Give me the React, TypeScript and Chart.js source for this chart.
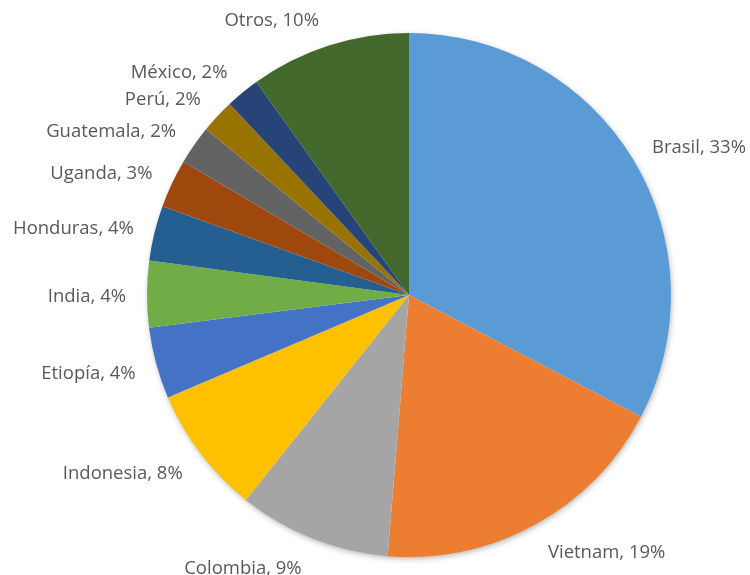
import React, { useEffect, useRef } from "react";
import { Chart, registerables } from "chart.js";

Chart.register(...registerables);

const categories = ["Brasil", "Vietnam", "Colombia", "Indonesia", "Etiopía", "India", "Honduras", "Uganda", "Guatemala", "Perú", "México", "Otros"];
const values = [32.7, 18.6, 9.4, 7.9, 4.4, 4.1, 3.4, 3.0, 2.4, 2.1, 2.1, 9.9];
const percentLabels = ["33%", "19%", "9%", "8%", "4%", "4%", "4%", "3%", "2%", "2%", "2%", "10%"];
const colors = ["#5B9BD5", "#ED7D31", "#A5A5A5", "#FFC000", "#4472C4", "#70AD47", "#255E91", "#9E480E", "#636363", "#997300", "#264478", "#43682B"];

function shade(hex: string, f: number): string {
  const n = parseInt(hex.slice(1), 16);
  let r = (n >> 16) & 255, g = (n >> 8) & 255, b = n & 255;
  if (f >= 0) {
    r = r + (255 - r) * f; g = g + (255 - g) * f; b = b + (255 - b) * f;
  } else {
    r = r * (1 + f); g = g * (1 + f); b = b * (1 + f);
  }
  return `rgb(${Math.round(r)},${Math.round(g)},${Math.round(b)})`;
}

const FONT = "18.5px 'Open Sans'";

const shadowPlugin = {
  id: "pieShadow",
  beforeDatasetsDraw(chart: any) {
    const meta = chart.getDatasetMeta(0);
    const arc = meta.data[0];
    if (!arc) return;
    const ctx = chart.ctx;
    ctx.save();
    ctx.shadowColor = "rgba(0,0,0,0.35)";
    ctx.shadowBlur = 6;
    ctx.shadowOffsetX = 1;
    ctx.shadowOffsetY = 2;
    ctx.fillStyle = "#ffffff";
    ctx.beginPath();
    ctx.arc(arc.x, arc.y, arc.outerRadius - 1, 0, Math.PI * 2);
    ctx.fill();
    ctx.restore();
  },
};

const labelPlugin = {
  id: "outLabels",
  afterDatasetsDraw(chart: any) {
    const meta = chart.getDatasetMeta(0);
    const ctx = chart.ctx;
    ctx.save();
    ctx.font = FONT;
    ctx.fillStyle = "#595959";
    ctx.textBaseline = "middle";
    meta.data.forEach((arc: any, i: number) => {
      const mid = (arc.startAngle + arc.endAngle) / 2;
      const dx = Math.cos(mid);
      const dy = Math.sin(mid);
      const r = arc.outerRadius + 16;
      const left = dx < 0;
      const x = arc.x + dx * r + (left ? -5 : 5);
      const y = arc.y + dy * r + dy * 13 + 3;
      const text = `${categories[i]}, ${percentLabels[i]}`;
      ctx.textAlign = left ? "right" : "left";
      ctx.fillText(text, x, y);
    });
    ctx.restore();
  },
};

export default function App() {
  const ref = useRef<HTMLCanvasElement | null>(null);
  useEffect(() => {
    if (!ref.current) return;
    const chart = new Chart(ref.current, {
      type: "pie",
      data: {
        labels: categories,
        datasets: [
          {
            data: values,
            borderWidth: 0,
            hoverOffset: 0,
            backgroundColor: (c: any) => {
              const base = colors[c.dataIndex];
              const el = c.chart.getDatasetMeta(0).data[c.dataIndex];
              if (!el || el.outerRadius == null || !isFinite(el.y)) return base;
              const { y: cy, startAngle: s, endAngle: e, outerRadius: R } = el;
              const ys = [cy, cy + Math.sin(s) * R, cy + Math.sin(e) * R];
              for (const a of [-Math.PI / 2, Math.PI / 2, (3 * Math.PI) / 2]) {
                if (a >= s && a <= e) ys.push(cy + Math.sin(a) * R);
              }
              const y0 = Math.min(...ys), y1 = Math.max(...ys);
              const g = c.chart.ctx.createLinearGradient(0, y0, 0, Math.max(y1, y0 + 1));
              g.addColorStop(0, shade(base, 0.2));
              g.addColorStop(0.5, shade(base, 0.02));
              g.addColorStop(1, shade(base, -0.08));
              return g;
            },
          },
        ],
      },
      options: {
        responsive: false,
        animation: false,
        layout: { padding: { left: 147, right: 79, top: 33, bottom: 18 } },
        plugins: { legend: { display: false }, tooltip: { enabled: false } },
      },
      plugins: [shadowPlugin, labelPlugin],
    });
    return () => chart.destroy();
  }, []);
  return (
    <div style={{ position: "fixed", left: 0, top: 0, width: 750, height: 575, background: "#fff" }}>
      <canvas ref={ref} width={750} height={575} />
    </div>
  );
}
